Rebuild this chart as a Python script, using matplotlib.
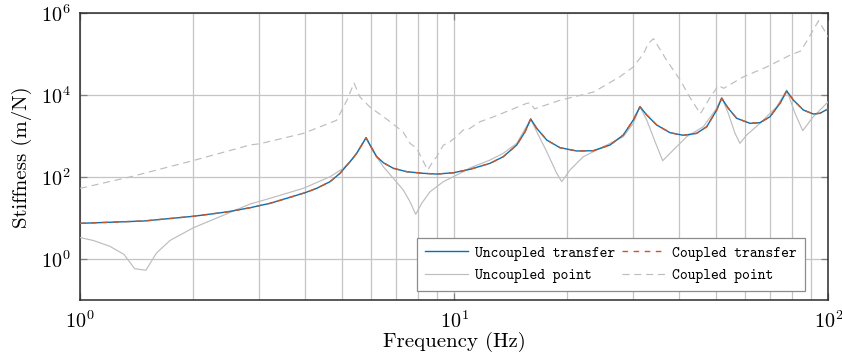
import matplotlib
matplotlib.use("Agg")
import matplotlib.pyplot as plt
from matplotlib.ticker import LogLocator, NullLocator, NullFormatter
from matplotlib.font_manager import FontProperties

# ---------------- data ----------------
f_transfer = [1.0, 1.48, 2.01, 2.47, 2.848, 3.22, 3.641, 3.995, 4.293, 4.658, 4.954, 5.268,
              5.49, 5.697, 5.814, 5.959, 6.209, 6.467, 6.877, 7.467, 8.272, 8.98, 9.95,
              11.03, 12.47, 13.53, 14.70, 15.47, 16.02, 16.62, 17.68, 19.18, 21.27, 23.55,
              26.10, 28.32, 30.12, 31.38, 32.71, 34.78, 37.76, 40.98, 44.49, 47.32,
              50.31, 51.89, 54.04, 56.9, 61.76, 65.68, 69.86, 74.29, 77.42, 80.62,
              85.76, 91.19, 95.0, 100.0]
k_transfer = [7.53, 8.59, 11.2, 14.3, 18.1, 23.2, 32.5, 42.1, 53.9, 78.1, 125, 240,
              385, 675, 925, 614, 318, 227, 166, 137, 125, 120, 129,
              157, 219, 318, 614, 1294, 2642, 1567, 812, 527, 438, 445,
              614, 1076, 2500, 5272, 3311, 1888, 1224, 1057, 1183, 1714,
              4375, 8453, 4819, 2748, 2075, 2148, 3006, 6383, 12735, 7677,
              4375, 3499, 3639, 4700]

f_upoint = [1.0, 1.085, 1.2, 1.31, 1.40, 1.50, 1.60, 1.74, 2.01, 2.47, 2.848, 3.22, 3.953,
            4.658, 5.055, 5.377, 5.661, 5.814, 6.081, 6.467, 6.877, 7.312, 7.621, 7.893,
            8.19, 8.621, 9.355, 10.58, 11.03, 12.47, 13.53, 14.70, 16.02, 16.62, 17.68,
            18.80, 19.39, 20.40, 22.14, 25.04, 28.32, 30.12, 31.38, 32.71, 34.43, 36.09,
            38.53, 41.84, 46.34, 50.31, 51.89, 54.04, 56.31, 58.07, 60.52, 65.68, 72.80,
            77.42, 81.47, 85.44, 91.19, 100.0]
k_upoint = [3.39, 2.88, 2.09, 1.32, 0.59, 0.54, 1.41, 2.88, 5.89, 12.9, 22.3, 30.7, 53.9,
            103, 166, 291, 614, 910, 421, 181, 94.6, 49.0, 25.4, 12.5,
            23.2, 44.5, 78.1, 137, 170, 264, 385, 675, 2642, 1294, 421,
            125, 78.1, 151, 318, 557, 977, 2075, 5272, 2500, 738, 254,
            463, 977, 1714, 4819, 8933, 3639, 1183, 675, 1076, 2075, 5272,
            13460, 3639, 1371, 3006, 6982]

f_cpoint = [1.0, 1.36, 2.01, 2.848, 3.03, 3.95, 4.85, 5.17, 5.4, 5.6, 5.96, 6.6, 7.3, 7.621,
            7.95, 8.19, 8.5, 8.81, 8.98, 9.35, 9.75, 10.1, 10.58, 11.0, 11.73, 12.7, 15.6,
            15.95, 16.4, 19.2, 23.6, 27.7, 30.1, 32.1, 33.0, 34.1, 37.0, 40.2, 42.6, 45.5,
            48.4, 50.9, 52.5, 59.3, 68.4, 79.1, 84.3, 88.0, 94.2, 100.0]
k_cpoint = [53.7, 102, 257, 614, 661, 1175, 2455, 7590, 19950, 9120, 5130, 2630, 1288, 675,
            501, 291, 151, 257, 318, 603, 738, 955, 1425, 1550, 2270, 2950, 6310,
            6600, 4680, 7590, 12020, 28180, 48980, 104700, 182000, 239900, 70800, 23440, 9120, 3550,
            9120, 17380, 14790, 28180, 48980, 95500, 120000, 224000, 660000, 263000]

labels = ["Uncoupled transfer", "Coupled transfer", "Uncoupled point", "Coupled point"]
x_label = "Frequency (Hz)"
y_label = "Stiffness (m/N)"

# ---------------- style ----------------
plt.rcParams["font.family"] = ["cmr10", "DejaVu Serif"]
plt.rcParams["mathtext.fontset"] = "cm"
plt.rcParams["axes.formatter.use_mathtext"] = True

fig = plt.figure(figsize=(8.42, 3.60), dpi=100)
ax = fig.add_axes([80 / 842, 1 - 300.3 / 360, 748.3 / 842, 287 / 360])

gray = "#bdbdbd"
l_up, = ax.plot(f_upoint, k_upoint, color=gray, lw=0.85, zorder=3)
l_cp, = ax.plot(f_cpoint, k_cpoint, color=gray, lw=0.85, dashes=(6, 4), zorder=3)
l_ut, = ax.plot(f_transfer, k_transfer, color="#0072BD", lw=1.0, zorder=4)
l_ct, = ax.plot(f_transfer, k_transfer, color="#D95319", lw=1.0, dashes=(4, 4), zorder=5)

ax.set_xscale("log")
ax.set_yscale("log")
ax.set_xlim(1, 100)
ax.set_ylim(1e-1, 1e6)

ax.xaxis.set_major_locator(LogLocator(base=10, numticks=10))
ax.xaxis.set_minor_locator(LogLocator(base=10, subs=range(2, 10), numticks=20))
ax.xaxis.set_minor_formatter(NullFormatter())
ax.set_yticks([1e0, 1e2, 1e4, 1e6])
ax.yaxis.set_minor_locator(NullLocator())

ax.grid(True, which="major", color="#c4c4c4", lw=0.9, zorder=0)
ax.grid(True, which="minor", axis="x", color="#c4c4c4", lw=0.9, zorder=0)
ax.set_axisbelow(True)

ax.tick_params(which="major", direction="in", length=5, width=0.9, color="#7f7f7f",
               labelsize=14.5, top=True, right=True, pad=7)
ax.tick_params(which="minor", direction="in", length=0)

for s in ax.spines.values():
    s.set_color("#2b2b2b")
    s.set_linewidth(1.1)

ax.set_xlabel(x_label, fontsize=15, labelpad=0)
ax.set_ylabel(y_label, fontsize=15, labelpad=6)

leg = ax.legend([l_ut, l_up, l_ct, l_cp], [labels[0], labels[2], labels[1], labels[3]],
                ncol=2, loc="lower right", bbox_to_anchor=(0.969, 0.031),
                borderaxespad=0, fancybox=False, framealpha=1, edgecolor="#8c8c8c",
                prop=FontProperties(family="cmtt10", size=10.7),
                handlelength=2.9, handletextpad=0.5, columnspacing=0.4,
                labelspacing=0.55, borderpad=0.55)
leg.get_frame().set_linewidth(0.9)

fig.savefig("out.png", dpi=100)
